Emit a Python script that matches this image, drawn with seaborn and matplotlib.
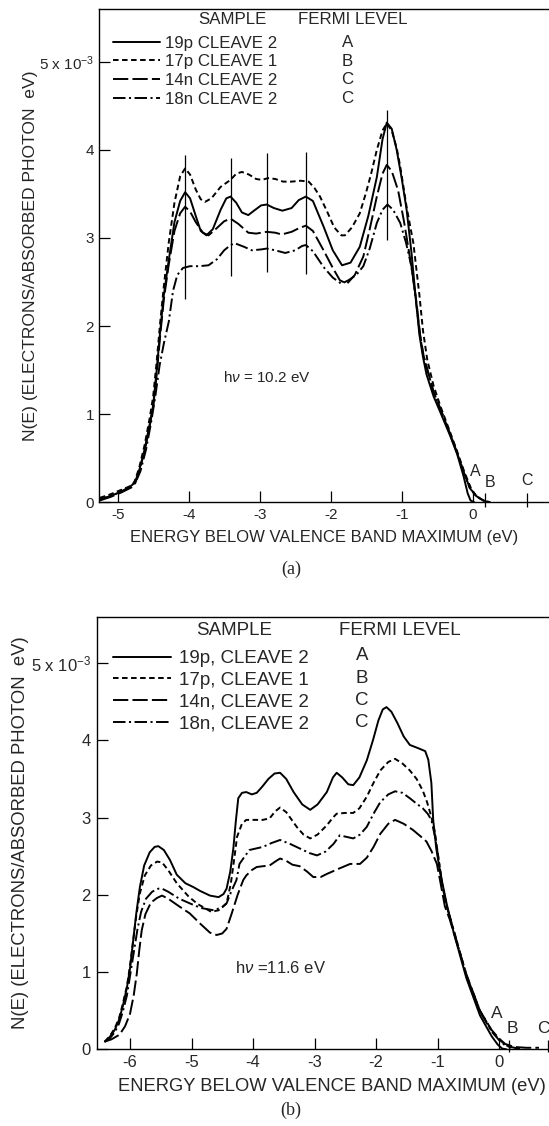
import numpy as np
import pandas as pd
import matplotlib
matplotlib.use("Agg")
import matplotlib.pyplot as plt
import seaborn as sns

sns.set_theme(style="white")
plt.rcParams["font.family"] = ["Liberation Sans", "DejaVu Sans"]
plt.rcParams["mathtext.fontset"] = "custom"
plt.rcParams["mathtext.rm"] = "Liberation Sans"
plt.rcParams["mathtext.it"] = "Liberation Sans:italic"
plt.rcParams["mathtext.bf"] = "Liberation Sans:bold"
plt.rcParams["lines.scale_dashes"] = False

# ---------------- data -----------------
samples_a = ["19p CLEAVE 2", "17p CLEAVE 1", "14n CLEAVE 2", "18n CLEAVE 2"]
samples_b = ["19p, CLEAVE 2", "17p, CLEAVE 1", "14n, CLEAVE 2", "18n, CLEAVE 2"]
fermi = ["A", "B", "C", "C"]

# panel (a), h nu = 10.2 eV
a19_E = [-5.25, -5.1, -4.95, -4.82, -4.76, -4.70, -4.62, -4.55, -4.50, -4.45, -4.40, -4.35, -4.28, -4.20,
         -4.12, -4.05, -3.98, -3.90, -3.83, -3.75, -3.66, -3.55, -3.47, -3.41, -3.33, -3.25, -3.16, -3.08,
         -2.98, -2.90, -2.80, -2.68, -2.55, -2.45, -2.35, -2.25, -2.10, -1.97, -1.84, -1.72, -1.59, -1.47,
         -1.35, -1.27, -1.21, -1.14, -1.07, -1.00, -0.93, -0.86, -0.80, -0.75, -0.70, -0.65, -0.55, -0.46,
         -0.32, -0.22, -0.13, -0.07, -0.03, 0.02]
a19_N = [0.03, 0.07, 0.12, 0.18, 0.22, 0.35, 0.60, 0.88, 1.10, 1.50, 1.95, 2.35, 2.75, 3.18,
         3.42, 3.52, 3.45, 3.25, 3.08, 3.03, 3.10, 3.32, 3.45, 3.47, 3.40, 3.29, 3.26, 3.31,
         3.37, 3.38, 3.34, 3.31, 3.34, 3.43, 3.47, 3.42, 3.13, 2.86, 2.69, 2.72, 2.90, 3.25,
         3.69, 4.12, 4.31, 4.24, 4.00, 3.68, 3.32, 2.82, 2.30, 1.90, 1.65, 1.45, 1.20, 1.03,
         0.76, 0.55, 0.30, 0.10, 0.02, 0.0]

a17_E = [-5.25, -5.1, -4.95, -4.80, -4.76, -4.70, -4.62, -4.55, -4.50, -4.45, -4.40, -4.35, -4.28, -4.20,
         -4.12, -4.05, -3.98, -3.90, -3.83, -3.77, -3.68, -3.55, -3.41, -3.33, -3.25, -3.15, -3.05, -2.97,
         -2.88, -2.78, -2.67, -2.55, -2.42, -2.31, -2.23, -2.15, -2.05, -1.95, -1.85, -1.80, -1.70, -1.59,
         -1.50, -1.43, -1.35, -1.27, -1.21, -1.14, -1.07, -1.02, -0.93, -0.835, -0.75, -0.70, -0.64, -0.55,
         -0.45, -0.32, -0.22, -0.12, -0.02, 0.06, 0.15, 0.25]
a17_N = [0.05, 0.09, 0.14, 0.19, 0.24, 0.38, 0.65, 0.95, 1.20, 1.60, 2.05, 2.45, 2.95, 3.40,
         3.70, 3.79, 3.72, 3.55, 3.44, 3.41, 3.45, 3.58, 3.66, 3.73, 3.75, 3.72, 3.67, 3.66,
         3.68, 3.67, 3.64, 3.64, 3.65, 3.64, 3.57, 3.47, 3.30, 3.12, 3.03, 3.03, 3.12, 3.28,
         3.52, 3.73, 4.00, 4.22, 4.30, 4.22, 4.02, 3.81, 3.35, 2.94, 2.35, 1.95, 1.62, 1.32,
         1.08, 0.80, 0.58, 0.35, 0.15, 0.06, 0.02, 0.0]

a14_E = [-5.25, -5.1, -4.95, -4.80, -4.75, -4.70, -4.62, -4.55, -4.50, -4.45, -4.40, -4.35, -4.28, -4.20,
         -4.12, -4.05, -3.98, -3.90, -3.80, -3.72, -3.62, -3.50, -3.41, -3.30, -3.16, -3.05, -2.90, -2.78,
         -2.69, -2.55, -2.45, -2.35, -2.25, -2.10, -1.97, -1.87, -1.77, -1.66, -1.54, -1.45, -1.35, -1.27,
         -1.21, -1.14, -1.05, -0.97, -0.90, -0.84, -0.79, -0.74, -0.69, -0.63, -0.55, -0.45, -0.32, -0.22,
         -0.12, -0.04, 0.05, 0.15, 0.22]
a14_N = [0.02, 0.06, 0.11, 0.17, 0.22, 0.34, 0.58, 0.86, 1.08, 1.45, 1.90, 2.30, 2.70, 3.08,
         3.28, 3.355, 3.30, 3.18, 3.06, 3.03, 3.10, 3.19, 3.22, 3.16, 3.06, 3.05, 3.07, 3.06,
         3.04, 3.07, 3.11, 3.14, 3.08, 2.86, 2.66, 2.52, 2.48, 2.58, 2.79, 3.10, 3.47, 3.73,
         3.83, 3.76, 3.54, 3.20, 2.86, 2.55, 2.26, 1.90, 1.66, 1.48, 1.25, 1.05, 0.78, 0.56,
         0.33, 0.16, 0.07, 0.02, 0.0]

a18_E = [-5.25, -5.10, -4.95, -4.80, -4.74, -4.68, -4.60, -4.53, -4.47, -4.41, -4.35, -4.28, -4.22, -4.16,
         -4.08, -3.98, -3.85, -3.72, -3.60, -3.50, -3.41, -3.35, -3.22, -3.11, -2.98, -2.90, -2.78, -2.64,
         -2.50, -2.40, -2.35, -2.25, -2.10, -1.97, -1.85, -1.75, -1.64, -1.54, -1.45, -1.35, -1.27, -1.20,
         -1.12, -1.02, -0.94, -0.86, -0.80, -0.75, -0.70, -0.63, -0.55, -0.45, -0.32, -0.22, -0.12, -0.04,
         0.05, 0.15, 0.22]
a18_N = [0.03, 0.07, 0.12, 0.18, 0.24, 0.35, 0.60, 0.90, 1.20, 1.55, 1.80, 2.05, 2.40, 2.58,
         2.66, 2.68, 2.68, 2.69, 2.76, 2.86, 2.92, 2.94, 2.90, 2.86, 2.87, 2.88, 2.86, 2.83,
         2.86, 2.91, 2.92, 2.85, 2.67, 2.55, 2.48, 2.52, 2.58, 2.68, 2.88, 3.17, 3.32, 3.38,
         3.32, 3.17, 2.95, 2.67, 2.30, 1.95, 1.68, 1.48, 1.25, 1.05, 0.78, 0.56,
         0.33, 0.16, 0.07, 0.02, 0.0]

# marker lines drawn on panel (a)
peak_E = [-4.05, -3.41, -2.90, -2.35, -1.21]
peak_lo = [2.31, 2.57, 2.61, 2.59, 2.98]
peak_hi = [3.94, 3.91, 3.96, 3.98, 4.45]

# panel (b), h nu = 11.6 eV
b19_E = [-6.41, -6.33, -6.25, -6.18, -6.12, -6.05, -6.00, -5.95, -5.90, -5.84, -5.77, -5.68, -5.60, -5.54,
         -5.45, -5.35, -5.24, -5.10, -4.97, -4.86, -4.70, -4.56, -4.48, -4.43, -4.37, -4.32, -4.28, -4.24,
         -4.18, -4.11, -4.02, -3.94, -3.85, -3.75, -3.65, -3.56, -3.46, -3.34, -3.20, -3.07, -2.95, -2.80,
         -2.70, -2.64, -2.55, -2.45, -2.37, -2.27, -2.15, -2.05, -1.96, -1.89, -1.83, -1.75, -1.65, -1.55,
         -1.45, -1.32, -1.20, -1.15, -1.10, -1.07, -1.02, -0.96, -0.85, -0.74, -0.53, -0.31, -0.12, -0.02,
         0.05, 0.12]
b19_N = [0.10, 0.16, 0.25, 0.38, 0.55, 0.80, 1.05, 1.40, 1.75, 2.10, 2.38, 2.55, 2.62, 2.63,
         2.58, 2.45, 2.26, 2.15, 2.10, 2.05, 1.99, 1.97, 2.01, 2.08, 2.30, 2.60, 2.95, 3.25,
         3.32, 3.33, 3.30, 3.32, 3.40, 3.50, 3.57, 3.58, 3.50, 3.33, 3.17, 3.10, 3.17, 3.33,
         3.52, 3.58, 3.52, 3.43, 3.42, 3.52, 3.74, 4.00, 4.26, 4.40, 4.43, 4.37, 4.22, 4.05,
         3.94, 3.90, 3.86, 3.75, 3.45, 2.97, 2.60, 2.30, 1.88, 1.52, 0.92, 0.44, 0.17, 0.06,
         0.01, 0.0]

b17_E = [-6.41, -6.33, -6.25, -6.18, -6.12, -6.05, -6.00, -5.95, -5.90, -5.84, -5.76, -5.66, -5.56, -5.48,
         -5.38, -5.24, -5.05, -4.90, -4.81, -4.68, -4.56, -4.43, -4.36, -4.30, -4.26, -4.18, -4.11, -3.98,
         -3.84, -3.73, -3.64, -3.56, -3.46, -3.37, -3.29, -3.18, -3.07, -2.95, -2.80, -2.70, -2.64, -2.50,
         -2.37, -2.27, -2.15, -2.04, -1.93, -1.80, -1.69, -1.57, -1.45, -1.34, -1.24, -1.17, -1.10, -1.04,
         -0.98, -0.92, -0.85, -0.74, -0.53, -0.31, -0.12, 0.00, 0.10, 0.20, 0.30]
b17_N = [0.10, 0.17, 0.27, 0.40, 0.58, 0.82, 1.08, 1.40, 1.72, 2.02, 2.25, 2.38, 2.43, 2.42,
         2.32, 2.15, 1.98, 1.88, 1.84, 1.78, 1.80, 1.89, 2.15, 2.50, 2.75, 2.92, 2.97, 2.97,
         2.97, 2.99, 3.08, 3.13, 3.07, 2.97, 2.88, 2.78, 2.73, 2.78, 2.90, 3.00, 3.05, 3.06,
         3.06, 3.12, 3.27, 3.45, 3.61, 3.72, 3.76, 3.70, 3.61, 3.50, 3.35, 3.20, 3.01, 2.80,
         2.45, 2.12, 1.85, 1.55, 0.96, 0.50, 0.24, 0.13, 0.06, 0.02, 0.01]

b14_E = [-6.41, -6.30, -6.17, -6.08, -6.00, -5.94, -5.89, -5.85, -5.81, -5.75, -5.66, -5.56, -5.48, -5.38,
         -5.20, -5.03, -4.85, -4.70, -4.59, -4.50, -4.43, -4.35, -4.25, -4.16, -4.11, -4.02, -3.94, -3.84,
         -3.73, -3.64, -3.56, -3.46, -3.36, -3.24, -3.12, -3.02, -2.90, -2.80, -2.60, -2.42, -2.26, -2.15,
         -2.04, -1.93, -1.80, -1.69, -1.55, -1.40, -1.28, -1.18, -1.10, -1.01, -0.95, -0.88, -0.80, -0.74,
         -0.53, -0.31, -0.12, 0.00, 0.10, 0.25, 0.45, 0.65]
b14_N = [0.10, 0.13, 0.19, 0.30, 0.46, 0.70, 0.98, 1.28, 1.54, 1.75, 1.90, 1.96, 1.99, 1.95,
         1.85, 1.76, 1.62, 1.51, 1.48, 1.50, 1.56, 1.75, 2.00, 2.19, 2.25, 2.32, 2.36, 2.37,
         2.38, 2.43, 2.47, 2.44, 2.39, 2.37, 2.30, 2.23, 2.23, 2.27, 2.34, 2.40, 2.40, 2.48,
         2.62, 2.79, 2.92, 2.97, 2.92, 2.84, 2.76, 2.69, 2.57, 2.40, 2.15, 1.85, 1.68, 1.52,
         0.97, 0.50, 0.25, 0.14, 0.07, 0.03, 0.02, 0.02]

b18_E = [-6.41, -6.33, -6.25, -6.18, -6.12, -6.05, -6.00, -5.94, -5.88, -5.82, -5.74, -5.64, -5.54, -5.48,
         -5.38, -5.20, -5.03, -4.85, -4.64, -4.50, -4.43, -4.35, -4.27, -4.22, -4.15, -4.06, -3.95, -3.84,
         -3.70, -3.56, -3.40, -3.24, -3.08, -2.96, -2.82, -2.69, -2.59, -2.48, -2.37, -2.26, -2.15, -2.04,
         -1.93, -1.80, -1.69, -1.57, -1.45, -1.34, -1.24, -1.16, -1.10, -1.04, -0.98, -0.92, -0.85, -0.74,
         -0.53, -0.31, -0.12, 0.00, 0.10, 0.25, 0.40]
b18_N = [0.10, 0.14, 0.22, 0.33, 0.48, 0.70, 0.95, 1.25, 1.55, 1.78, 1.95, 2.04, 2.08, 2.08,
         2.04, 1.95, 1.89, 1.83, 1.80, 1.84, 1.89, 2.05, 2.19, 2.40, 2.48, 2.58, 2.60, 2.62,
         2.67, 2.71, 2.66, 2.60, 2.54, 2.51, 2.56, 2.66, 2.77, 2.75, 2.73, 2.78, 2.88, 3.05,
         3.20, 3.30, 3.34, 3.32, 3.25, 3.18, 3.12, 3.05, 2.97, 2.75, 2.45, 2.12, 1.85, 1.55,
         0.95, 0.49, 0.23, 0.12, 0.05, 0.02, 0.01]

# Fermi-level marks on energy axis
fa_tick_E = [0.18, 0.765]
fa_lab_E = [0.04, 0.24, 0.765]
fa_lab_N = [0.35, 0.22, 0.25]
fb_tick_E = [0.17, 0.79]
fb_lab_E = [-0.04, 0.22, 0.725]
fb_lab_N = [0.47, 0.27, 0.27]
fermi_marks = ["A", "B", "C"]

ticks_a = [-5, -4, -3, -2, -1, 0]
ticks_b = [-6, -5, -4, -3, -2, -1, 0]
yticks = [0, 1, 2, 3, 4, 5]
ytick_labels = ["0", "1", "2", "3", "4", r"5 x 10$^{-3}$"]

# ---------------- styling -----------------
dash_map = {0: "", 1: (4, 2.5), 2: (11, 3), 3: (9, 2.5, 1.5, 2.5)}

def build(samples, Es, Ns):
    frames = []
    for s, e, n in zip(samples, Es, Ns):
        frames.append(pd.DataFrame({"E": e, "N": n, "sample": s}))
    return pd.concat(frames, ignore_index=True)

df_a = build(samples_a, [a19_E, a17_E, a14_E, a18_E], [a19_N, a17_N, a14_N, a18_N])
df_b = build(samples_b, [b19_E, b17_E, b14_E, b18_E], [b19_N, b17_N, b14_N, b18_N])

fig = plt.figure(figsize=(5.49, 11.26), dpi=100)
ax_a = fig.add_axes([0.1812, 0.5540, 0.8188, 0.4380])
ax_b = fig.add_axes([0.1758, 0.0681, 0.8242, 0.3842])


def panel(ax, df, samples, xlim, xticks, fs, leg):
    dashes = {s: dash_map[i] for i, s in enumerate(samples)}
    sns.lineplot(data=df, x="E", y="N", style="sample", style_order=samples, dashes=dashes,
                 color="black", lw=1.4, sort=False, estimator=None, legend=False, ax=ax)
    ax.set_xlim(*xlim)
    ax.set_ylim(0, 5.6)
    ax.set_xticks(xticks)
    ax.set_xticklabels([str(t) for t in xticks], fontsize=fs)
    ax.set_yticks(yticks)
    ax.set_yticklabels(ytick_labels, fontsize=fs)
    ax.tick_params(direction="in", length=8, width=0.9, color="black", pad=4,
                   top=False, right=False, left=True, bottom=True)
    for side in ["left", "bottom", "top"]:
        ax.spines[side].set_color("black")
        ax.spines[side].set_linewidth(1.0)
    ax.spines["right"].set_visible(False)
    ax.grid(False)
    handles = ax.lines[:4]
    ax.legend(handles, samples, loc="upper left", bbox_to_anchor=leg["anchor"], frameon=False,
              fontsize=leg["fs"], handlelength=leg["hl"], handletextpad=leg["htp"],
              labelspacing=leg["ls"], borderpad=0, borderaxespad=0)
    ax.text(leg["sx"], leg["hy"], "SAMPLE", transform=ax.transAxes, ha="center", va="center",
            fontsize=leg["fs"])
    ax.text(leg["fx"], leg["hy"], "FERMI LEVEL", transform=ax.transAxes, ha="center", va="center",
            fontsize=leg["fs"])
    for lab, y in zip(fermi, leg["rows"]):
        ax.text(leg["lx"], y, lab, transform=ax.transAxes, ha="center", va="center",
                fontsize=leg["fs"])


panel(ax_a, df_a, samples_a, (-5.256, 1.075), ticks_a, 11,
      dict(anchor=(0.030, 0.946), fs=12.2, hl=2.78, htp=0.30, ls=0.22,
           sx=0.295, fx=0.564, hy=0.978, lx=0.551,
           rows=[0.9325, 0.8932, 0.8561, 0.8190]))
panel(ax_b, df_b, samples_b, (-6.545, 0.813), ticks_b, 12,
      dict(anchor=(0.037, 0.923), fs=13.5, hl=3.07, htp=0.45, ls=0.254,
           sx=0.304, fx=0.671, hy=0.969, lx=0.587,
           rows=[0.9092, 0.8576, 0.8074, 0.7550]))

# peak marker lines (panel a)
ax_a.vlines(peak_E, peak_lo, peak_hi, color="black", lw=0.9)

# Fermi level marks
ax_a.vlines(fa_tick_E, -0.06, 0.10, color="black", lw=0.9, clip_on=False)
for m, e, n in zip(fermi_marks, fa_lab_E, fa_lab_N):
    ax_a.text(e, n, m, ha="center", va="center", fontsize=11.5)
ax_b.vlines(fb_tick_E, -0.04, 0.12, color="black", lw=0.9, clip_on=False)
for m, e, n in zip(fermi_marks, fb_lab_E, fb_lab_N):
    ax_b.text(e, n, m, ha="center", va="center", fontsize=12.5)

ax_a.text(-2.9, 1.42, r"h$\nu$ = 10.2 eV", ha="center", va="center", fontsize=11)
ax_b.text(-3.55, 1.05, r"h$\nu$ =11.6 eV", ha="center", va="center", fontsize=12)

ax_a.set_xlabel("ENERGY BELOW VALENCE BAND MAXIMUM (eV)", fontsize=12)
ax_a.set_ylabel("N(E) (ELECTRONS/ABSORBED PHOTON  eV)", fontsize=12.6)
ax_b.set_xlabel("ENERGY BELOW VALENCE BAND MAXIMUM (eV)", fontsize=13.2)
ax_b.set_ylabel("N(E) (ELECTRONS/ABSORBED PHOTON  eV)", fontsize=13.3)
ax_a.xaxis.set_label_coords(0.4995, -0.056)
ax_a.yaxis.set_label_coords(-0.137, 0.5)
ax_b.xaxis.set_label_coords(0.52, -0.066)
ax_b.yaxis.set_label_coords(-0.149, 0.5)

fig.text(0.53, 0.494, "(a)", ha="center", va="center", fontsize=13, family="Liberation Serif")
fig.text(0.53, 0.0135, "(b)", ha="center", va="center", fontsize=13, family="Liberation Serif")

fig.savefig("out.png", dpi=100, facecolor="white")
